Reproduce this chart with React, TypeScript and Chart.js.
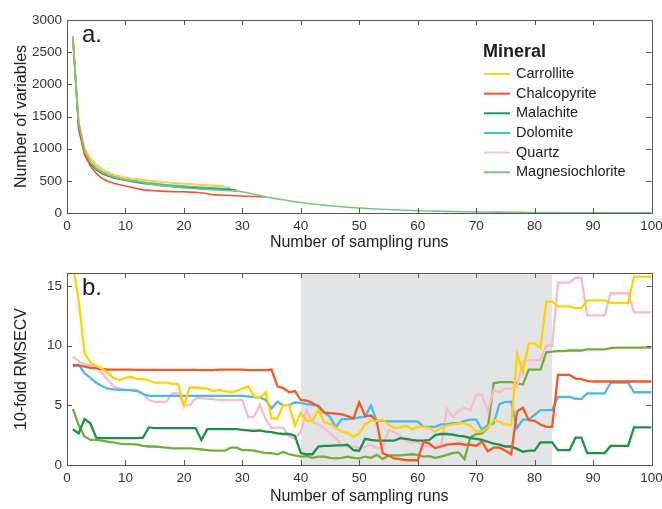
import React, { useEffect, useRef } from "react";
import { Chart, registerables } from "chart.js";

Chart.register(...registerables);

const MINERALS = ["Carrollite", "Chalcopyrite", "Malachite", "Dolomite", "Quartz", "Magnesiochlorite"];
const COLORS_A = ["#FFD21F", "#F4532A", "#1E9A48", "#3CC3CF", "#F9C2CE", "#7CC482"];
const COLORS_B = ["#FFD200", "#F15A24", "#1B9243", "#4DB6EC", "#F9BACB", "#74AD3C"];
const SHADE_RANGE = [40, 83];

// Panel a: number of variables (runs start at 1)
const VARS_CARROLLITE = [2740, 1420, 1000, 840, 740, 670, 625, 590, 565, 545, 535, 525, 515, 505, 495, 485, 478, 470, 465, 458, 452, 446, 440, 435, 430, 425, 420];
const VARS_CHALCOPYRITE = [2740, 1300, 900, 730, 615, 540, 495, 462, 440, 420, 400, 380, 360, 352, 345, 340, 336, 333, 331, 330, 325, 320, 315, 300, 285, 280, 276, 272, 268, 264, 260, 256, 252, 248];
const VARS_MALACHITE = [2740, 1330, 930, 760, 670, 610, 575, 545, 525, 508, 490, 475, 460, 450, 440, 430, 420, 412, 405, 398, 392, 386, 380, 375, 372, 368, 365, 362, 358];
const VARS_DOLOMITE = [2740, 1340, 950, 790, 700, 640, 600, 570, 545, 525, 510, 495, 482, 470, 460, 450, 440, 432, 425, 418, 412, 406, 400, 395, 390, 385, 380, 375];
const VARS_QUARTZ = [2740, 1420, 1020, 860, 760, 690, 640, 600, 575, 555, 540, 528, 515, 505, 495, 485, 477, 468, 460, 453, 446, 440, 433, 426, 420, 412, 405, 398];
const VARS_MAGNESIOCHLORITE = [2740, 1400, 960, 790, 690, 630, 590, 560, 535, 515, 500, 485, 470, 455, 440, 428, 418, 408, 398, 390, 382, 376, 370, 365, 360, 355, 350, 345, 340, 330, 310, 290, 270, 252, 235, 220, 205, 190, 176, 163, 152, 141, 131, 122, 113, 105, 97, 90, 84, 78, 72, 67, 62, 58, 54, 50, 46, 43, 40, 37, 34, 32, 29, 27, 25, 23, 22, 20, 19, 17, 16, 15, 14, 13, 12, 11, 10, 9, 8, 8, 7, 7, 6, 6, 5, 5, 5, 4, 4, 4, 3, 3, 3, 3, 2, 2, 2, 2, 2, 2];

// Panel b: 10-fold RMSECV (runs 1..100)
const RMSECV_CARROLLITE = [16.8, 13.8, 9.4, 8.6, 8.3, 8.1, 7.7, 7.3, 7.1, 7.3, 7.4, 7.2, 7.2, 7.1, 6.9, 6.9, 6.9, 6.8, 6.8, 5.0, 6.5, 6.5, 6.45, 6.4, 6.2, 6.3, 6.2, 6.1, 6.2, 6.4, 6.6, 5.75, 5.65, 6.1, 3.9, 3.9, 5.05, 5.05, 3.3, 4.4, 3.7, 3.7, 4.6, 3.6, 3.45, 3.1, 2.8, 2.7, 2.35, 2.65, 3.4, 3.7, 3.7, 3.8, 3.4, 3.1, 3.15, 3.3, 3.0, 3.2, 3.2, 3.1, 2.8, 3.1, 3.3, 3.4, 3.5, 3.5, 3.3, 2.85, 2.8, 3.15, 3.8, 3.6, 3.4, 3.35, 9.3, 7.8, 10.2, 10.2, 9.8, 13.7, 13.7, 13.3, 13.3, 13.3, 13.15, 13.15, 13.8, 13.8, 13.8, 13.8, 13.6, 13.6, 13.6, 13.6, 15.8, 15.8, 15.8, 15.8];
const RMSECV_CHALCOPYRITE = [8.4, 8.35, 8.25, 8.15, 8.1, 8.05, 8.0, 8.0, 8.0, 8.0, 8.0, 7.98, 7.97, 7.97, 7.97, 7.98, 7.98, 7.98, 7.98, 7.98, 7.97, 7.97, 7.95, 7.95, 7.95, 8.0, 8.0, 8.0, 8.0, 8.0, 7.95, 7.95, 7.95, 7.95, 8.0, 6.6, 6.45, 6.1, 6.2, 5.45, 5.4, 5.2, 4.9, 4.4, 4.35, 4.3, 4.25, 4.1, 3.9, 5.25, 4.1, 4.15, 3.65, 1.0, 0.8, 0.55, 0.5, 0.4, 0.4, 0.4, 1.95, 1.8, 1.4, 1.55, 1.7, 1.75, 1.8, 1.7, 1.7, 1.6, 1.95, 1.15, 1.45, 1.45, 1.2, 0.9, 4.5, 4.8, 3.75, 3.7, 3.4, 3.2, 3.2, 7.55, 7.55, 7.55, 7.25, 7.2, 7.05, 7.0, 7.0, 7.0, 7.0, 7.0, 7.0, 7.0, 7.0, 7.0, 7.0, 7.0];
const RMSECV_MALACHITE = [3.0, 2.65, 3.85, 3.5, 2.3, 2.25, 2.25, 2.25, 2.25, 2.25, 2.25, 2.25, 2.3, 3.15, 3.1, 3.1, 3.1, 3.1, 3.1, 3.1, 3.1, 3.1, 2.1, 3.0, 3.0, 3.0, 3.0, 3.0, 3.0, 2.95, 2.9, 2.85, 2.9, 2.8, 2.75, 2.65, 2.6, 2.6, 2.45, 1.0, 0.9, 0.9, 1.55, 1.6, 1.6, 1.65, 1.65, 1.7, 1.25, 1.2, 2.2, 2.1, 2.05, 2.05, 2.05, 2.05, 2.25, 2.2, 2.1, 2.05, 2.05, 2.1, 2.5, 2.6, 2.6, 2.55, 2.45, 2.4, 2.25, 2.2, 2.1, 1.95, 1.8, 1.7, 1.55, 1.55, 1.35, 1.1, 1.2, 1.2, 1.9, 1.9, 1.9, 1.25, 1.25, 1.25, 2.3, 2.3, 1.0, 1.0, 1.0, 1.0, 1.6, 1.6, 1.6, 1.6, 3.15, 3.15, 3.15, 3.15];
const RMSECV_DOLOMITE = [8.25, 8.4, 7.7, 7.3, 6.9, 6.6, 6.4, 6.35, 6.3, 6.3, 6.25, 6.2, 5.95, 5.8, 5.8, 5.8, 5.8, 5.8, 5.8, 5.8, 5.8, 5.8, 5.8, 5.8, 5.8, 5.8, 5.8, 5.8, 5.8, 5.8, 5.75, 5.7, 5.65, 5.45, 4.75, 5.3, 5.0, 5.05, 5.25, 5.2, 5.1, 5.05, 5.0, 4.4, 4.05, 3.15, 3.85, 3.85, 3.9, 4.0, 4.05, 5.0, 3.7, 3.7, 3.65, 3.65, 3.65, 3.65, 3.65, 3.65, 3.2, 3.2, 3.2, 3.4, 3.4, 3.5, 3.5, 3.7, 3.8, 3.8, 2.95, 3.35, 3.5, 5.1, 5.3, 5.3, 3.1, 3.8, 3.8, 4.2, 4.6, 4.6, 4.6, 5.7, 5.7, 5.7, 5.55, 5.55, 6.0, 6.0, 6.0, 6.0, 6.9, 6.9, 6.9, 6.9, 6.1, 6.1, 6.1, 6.1];
const RMSECV_QUARTZ = [9.1, 8.7, 8.45, 8.35, 8.2, 7.7, 7.1, 6.6, 6.4, 6.3, 6.3, 6.3, 6.0, 5.45, 5.3, 5.3, 5.3, 6.0, 6.0, 5.0, 5.0, 5.6, 5.6, 5.55, 5.55, 5.45, 5.45, 5.45, 5.45, 5.45, 4.0, 4.05, 5.05, 3.85, 3.1, 3.15, 3.1, 2.4, 2.2, 2.8, 4.6, 3.6, 3.4, 3.1, 2.65, 2.25, 1.7, 1.55, 1.55, 1.45, 1.55, 1.7, 1.4, 1.45, 2.95, 2.75, 2.5, 2.0, 1.9, 1.95, 1.6, 1.55, 1.55, 1.6, 4.7, 4.05, 4.55, 4.8, 4.55, 5.9, 5.9, 4.5, 6.3, 6.1, 6.4, 6.4, 6.6, 8.7, 8.8, 8.8, 8.8, 10.0, 10.0, 15.3, 15.3, 15.3, 15.7, 15.7, 12.55, 12.55, 12.55, 12.55, 14.4, 14.4, 14.4, 14.4, 12.8, 12.8, 12.8, 12.8];
const RMSECV_MAGNESIOCHLORITE = [4.7, 3.35, 2.4, 2.1, 2.1, 2.05, 1.95, 1.9, 1.8, 1.75, 1.75, 1.7, 1.6, 1.55, 1.55, 1.5, 1.45, 1.4, 1.4, 1.4, 1.4, 1.35, 1.3, 1.25, 1.2, 1.2, 1.2, 1.45, 1.45, 1.25, 1.25, 1.2, 1.1, 1.0, 1.0, 0.9, 1.1, 0.9, 0.8, 0.7, 0.75, 0.6, 0.7, 0.7, 0.6, 0.55, 0.6, 0.7, 0.6, 0.55, 0.7, 0.6, 0.85, 0.5, 0.8, 0.8, 0.8, 0.85, 0.9, 0.85, 0.7, 0.75, 0.6, 0.7, 0.85, 1.0, 1.05, 0.5, 2.3, 2.6, 2.65, 3.1, 6.85, 6.95, 6.95, 6.95, 6.85, 6.75, 8.0, 8.0, 8.0, 9.45, 9.5, 9.55, 9.55, 9.6, 9.6, 9.6, 9.7, 9.7, 9.7, 9.7, 9.8, 9.85, 9.85, 9.85, 9.85, 9.85, 9.85, 9.85];

const VARS_SERIES = [VARS_CARROLLITE, VARS_CHALCOPYRITE, VARS_MALACHITE, VARS_DOLOMITE, VARS_QUARTZ, VARS_MAGNESIOCHLORITE];
const RMSECV_SERIES = [RMSECV_CARROLLITE, RMSECV_CHALCOPYRITE, RMSECV_MALACHITE, RMSECV_DOLOMITE, RMSECV_QUARTZ, RMSECV_MAGNESIOCHLORITE];

const FONT = "'Liberation Sans', Arial, Helvetica, sans-serif";
const TEXT = "#1d1d1d";
const TICK_TEXT = "#333333";
const FRAME = "#555555";

function framePlugin(letter: string, shade: number[] | null, legend: boolean) {
  return {
    id: "frame_" + letter,
    beforeDatasetsDraw(chart: any) {
      const { ctx, chartArea: a, scales } = chart;
      if (shade) {
        const x0 = scales.x.getPixelForValue(shade[0]);
        const x1 = scales.x.getPixelForValue(shade[1]);
        ctx.save();
        ctx.fillStyle = "#E3E4E6";
        ctx.fillRect(x0, a.top, x1 - x0, a.bottom - a.top);
        ctx.restore();
      }
    },
    afterDatasetsDraw(chart: any) {
      const { ctx, chartArea: a, scales } = chart;
      ctx.save();
      ctx.strokeStyle = FRAME;
      ctx.lineWidth = 1;
      ctx.strokeRect(Math.round(a.left) + 0.5, Math.round(a.top) + 0.5, Math.round(a.right - a.left), Math.round(a.bottom - a.top));
      const tl = 5;
      ctx.beginPath();
      scales.x.ticks.forEach((t: any) => {
        const px = Math.round(scales.x.getPixelForValue(t.value)) + 0.5;
        ctx.moveTo(px, a.top); ctx.lineTo(px, a.top + tl);
        ctx.moveTo(px, a.bottom); ctx.lineTo(px, a.bottom - tl);
      });
      scales.y.ticks.forEach((t: any) => {
        const py = Math.round(scales.y.getPixelForValue(t.value)) + 0.5;
        ctx.moveTo(a.left, py); ctx.lineTo(a.left + tl, py);
        ctx.moveTo(a.right, py); ctx.lineTo(a.right - tl, py);
      });
      ctx.stroke();
      ctx.fillStyle = TEXT;
      ctx.font = `24px ${FONT}`;
      ctx.textBaseline = "alphabetic";
      ctx.textAlign = "left";
      ctx.fillText(letter, a.left + 15, a.top + 22);
      if (legend) {
        ctx.font = `bold 18px ${FONT}`;
        ctx.textBaseline = "middle";
        ctx.fillText("Mineral", 483, 52);
        ctx.font = `14.5px ${FONT}`;
        chart.data.datasets.forEach((ds: any, i: number) => {
          const y = 74 + i * 19.65;
          ctx.strokeStyle = ds.borderColor;
          ctx.lineWidth = 2;
          ctx.beginPath();
          ctx.moveTo(484, y); ctx.lineTo(510, y);
          ctx.stroke();
          ctx.fillStyle = TEXT;
          ctx.fillText(ds.label, 516, y);
        });
      }
      ctx.restore();
    },
  };
}

function makeConfig(opts: any) {
  const { series, colors, width, order, yMax, yStep, yTitle, padTop, xHeight, letter, shade, legend } = opts;
  return {
    type: "line",
    data: {
      datasets: series.map((arr: number[], i: number) => ({
        label: MINERALS[i],
        data: arr.map((v, j) => ({ x: j + 1, y: v })),
        borderColor: colors[i],
        backgroundColor: colors[i],
        borderWidth: width,
        pointRadius: 0,
        tension: 0,
        fill: false,
        order: order[i],
      })),
    },
    options: {
      responsive: false,
      maintainAspectRatio: false,
      animation: false,
      devicePixelRatio: 1,
      layout: { padding: { left: 0, right: 10.5, top: padTop, bottom: 0 } },
      plugins: { legend: { display: false }, tooltip: { enabled: false } },
      scales: {
        x: {
          type: "linear",
          min: 0,
          max: 100,
          ticks: { stepSize: 10, padding: 5, color: TICK_TEXT, font: { family: FONT, size: 13.5 }, maxRotation: 0, autoSkip: false, callback: (v: any) => String(v) },
          grid: { display: false, drawTicks: false },
          border: { display: false },
          title: { display: true, text: "Number of sampling runs", color: TEXT, font: { family: FONT, size: 16 }, padding: { top: 0, bottom: 2.4 } },
          afterFit(s: any) { s.height = xHeight; s.paddingLeft = 0; s.paddingRight = 0; },
        },
        y: {
          type: "linear",
          min: 0,
          max: yMax,
          ticks: { stepSize: yStep, padding: 5, color: TICK_TEXT, font: { family: FONT, size: 13.5 }, includeBounds: false, callback: (v: any) => String(v) },
          grid: { display: false, drawTicks: false },
          border: { display: false },
          title: { display: true, text: yTitle, color: TEXT, font: { family: FONT, size: 16 }, padding: { top: 11.5, bottom: 0 } },
          afterFit(s: any) { s.width = 67; s.paddingTop = 0; s.paddingBottom = 0; },
        },
      },
    },
    plugins: [framePlugin(letter, shade, legend)],
  };
}

export default function App() {
  const topRef = useRef<HTMLCanvasElement>(null);
  const botRef = useRef<HTMLCanvasElement>(null);

  useEffect(() => {
    const c1 = new Chart(topRef.current as any, makeConfig({
      series: VARS_SERIES, colors: COLORS_A, width: 1.6, order: [1, 2, 3, 4, 5, 0],
      yMax: 3000, yStep: 500, yTitle: "Number of variables", padTop: 20, xHeight: 42,
      letter: "a.", shade: null, legend: true,
    }) as any);
    const c2 = new Chart(botRef.current as any, makeConfig({
      series: RMSECV_SERIES, colors: COLORS_B, width: 2.3, order: [0, 1, 2, 3, 4, 5],
      yMax: 16.1, yStep: 5, yTitle: "10-fold RMSECV", padTop: 18, xHeight: 44,
      letter: "b.", shade: SHADE_RANGE, legend: false,
    }) as any);
    return () => { c1.destroy(); c2.destroy(); };
  }, []);

  return (
    <div style={{ position: "fixed", left: 0, top: 0, width: 662, height: 509, background: "#fff" }}>
      <canvas ref={topRef} width={662} height={255} style={{ position: "absolute", left: 0, top: 0, width: 662, height: 255 }} />
      <canvas ref={botRef} width={662} height={254} style={{ position: "absolute", left: 0, top: 255, width: 662, height: 254 }} />
    </div>
  );
}
